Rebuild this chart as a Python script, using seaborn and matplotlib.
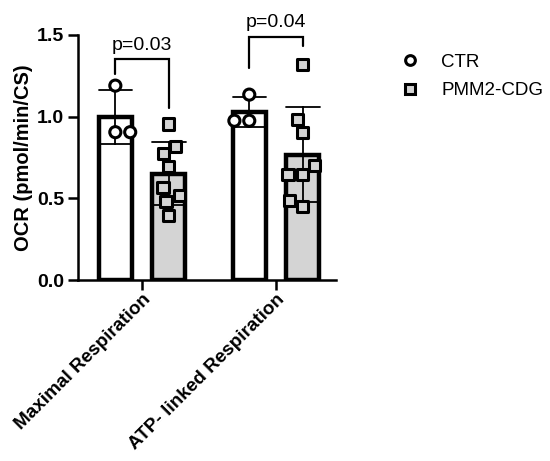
import numpy as np
import pandas as pd
import matplotlib
matplotlib.use('Agg')
import matplotlib.pyplot as plt
import seaborn as sns
from matplotlib.lines import Line2D

# ---- data ----
categories = ['Maximal Respiration', 'ATP- linked Respiration']
groups = ['CTR', 'PMM2-CDG']
ctr_max = [1.19, 0.905, 0.905]
pmm_max = [0.955, 0.82, 0.775, 0.695, 0.565, 0.52, 0.48, 0.395]
ctr_atp = [1.135, 0.975, 0.975]
pmm_atp = [1.32, 0.985, 0.905, 0.70, 0.645, 0.645, 0.485, 0.45]
p_labels = ['p=0.03', 'p=0.04']
bracket_top = [1.35, 1.49]
bracket_left_end = [1.26, 1.30]
bracket_right_end = [1.055, 1.43]
yticks = [0.0, 0.5, 1.0, 1.5]

rows = []
for cat, c, p in [(categories[0], ctr_max, pmm_max), (categories[1], ctr_atp, pmm_atp)]:
    rows += [(cat, 'CTR', v) for v in c]
    rows += [(cat, 'PMM2-CDG', v) for v in p]
df = pd.DataFrame(rows, columns=['category', 'group', 'value'])

sns.set_theme(style='white')
plt.rcParams['font.family'] = ['Liberation Sans', 'DejaVu Sans']
plt.rcParams.update({'text.color': 'black', 'axes.labelcolor': 'black',
                     'xtick.color': 'black', 'ytick.color': 'black'})

fill = {'CTR': 'white', 'PMM2-CDG': '#d4d4d4'}
markers = {'CTR': 'o', 'PMM2-CDG': 's'}

fig = plt.figure(figsize=(5.5, 4.61), dpi=100)
ax = fig.add_axes([0.142, 0.3926, 0.469, 0.5315])

sns.barplot(data=df, x='category', y='value', hue='group', order=categories,
            hue_order=groups, palette=fill, errorbar='sd', capsize=0.5,
            err_kws={'color': 'black', 'linewidth': 1.3}, edgecolor='black',
            linewidth=3.2, width=0.8, gap=0.385, legend=False, ax=ax)

for g in groups:
    sns.swarmplot(data=df[df.group == g], x='category', y='value', hue='group',
                  order=categories, hue_order=groups, dodge=True, marker=markers[g],
                  palette=fill, edgecolor='black', linewidth=2.2, size=8,
                  legend=False, ax=ax, zorder=5)

# significance brackets
for i, lab in enumerate(p_labels):
    x0, x1 = i - 0.2, i + 0.2
    ax.plot([x0, x0, x1, x1], [bracket_left_end[i], bracket_top[i], bracket_top[i], bracket_right_end[i]],
            color='black', lw=1.6, clip_on=False, solid_joinstyle='miter')
    ax.text(i, bracket_top[i] + 0.035, lab, ha='center', va='bottom', fontsize=14)

ax.set_ylim(0, 1.5)
ax.set_xlim(-0.478, 1.448)
ax.set_yticks(yticks)
ax.set_yticklabels([f'{t:.1f}' for t in yticks], fontweight='bold', fontsize=14)
ax.set_xticks(range(len(categories)))
ax.set_xticklabels(categories, rotation=45, ha='right', rotation_mode='anchor',
                   fontweight='bold', fontsize=13.6)
ax.set_xlabel('')
ax.set_ylabel('OCR (pmol/min/CS)', fontweight='bold', fontsize=14.5, labelpad=3)
for s in ['top', 'right']:
    ax.spines[s].set_visible(False)
for s in ['left', 'bottom']:
    ax.spines[s].set_linewidth(1.8)
    ax.spines[s].set_color('black')
ax.tick_params(axis='both', width=1.8, length=7, color='black', direction='out', pad=3,
               left=True, bottom=True)
ax.tick_params(axis='x', pad=1)

handles = [Line2D([], [], ls='', marker=markers[g], mfc=fill[g], mec='black', mew=2.2, ms=7)
           for g in groups]
fig.legend(handles, groups, loc='upper left', bbox_to_anchor=(0.68, 0.92), frameon=False,
           fontsize=13.5, handletextpad=0.7, labelspacing=0.6)

fig.savefig('out.png', dpi=100)
